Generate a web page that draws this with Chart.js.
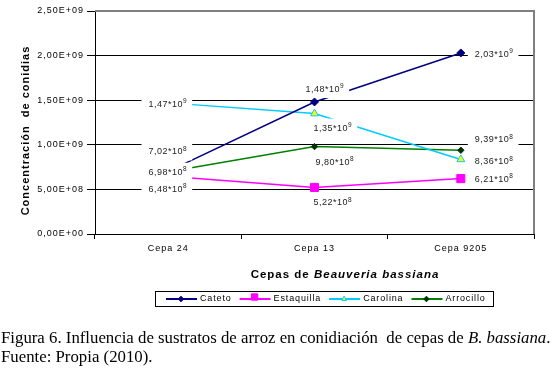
<!DOCTYPE html>
<html>
<head>
<meta charset="utf-8">
<script src="https://cdn.jsdelivr.net/npm/chart.js@4.4.1/dist/chart.umd.min.js"></script>
<style>
  html, body { margin: 0; padding: 0; background: #fff; }
  #wrap { position: relative; width: 557px; height: 372px; overflow: hidden; }
  #wrap canvas { position: absolute; left: 0; top: 0; }
  .cap { position: absolute; left: 1px; font-family: "Liberation Serif", "Times New Roman", serif;
         font-size: 16.8px; color: #000; white-space: pre; line-height: 19px; }
</style>
</head>
<body>
<div id="wrap">
  <canvas id="chart" width="557" height="372"></canvas>
  <div class="cap" style="top:328px">Figura 6. Influencia de sustratos de arroz en conidiación  de cepas de <i>B. bassiana</i>.</div>
  <div class="cap" style="top:347px">Fuente: Propia (2010).</div>
</div>
<script>
const categories = ['Cepa 24', 'Cepa 13', 'Cepa 9205'];
const seriesNames = ['Cateto', 'Estaquilla', 'Carolina', 'Arrocillo'];
const cateto = [7.02e8, 1.48e9, 2.03e9];
const estaquilla = [6.48e8, 5.22e8, 6.21e8];
const carolina = [1.47e9, 1.35e9, 8.36e8];
const arrocillo = [6.98e8, 9.80e8, 9.39e8];
const yMin = 0;
const yMax = 2.5e9;
const yStep = 5e8;

const fontFamily = '"Liberation Sans", Arial, sans-serif';

// look of each series
const seriesStyle = [
  { color: '#000080', point: 'rectRot', radius: 4, fill: '#000080', edge: '#000080' },
  { color: '#FF00FF', point: 'rect', radius: 5.7, fill: '#FF00FF', edge: '#FF00FF' },
  { color: '#00CCFF', point: 'triangle', radius: 4.5, fill: '#FFFF00', edge: '#00CCFF' },
  { color: '#008000', point: 'rectRot', radius: 3.2, fill: '#003300', edge: '#003300' }
];

// where each value label sits relative to its point: [dx, dy, align]
const labelPlacement = [
  [[19, -20, 'right'], [-9, -13, 'left'], [14, 1, 'left']],
  [[19, 13, 'right'], [-1, 15, 'left'], [14, 0, 'left']],
  [[19, 1, 'right'], [-1, 14, 'left'], [14, 2, 'left']],
  [[19, 0, 'right'], [1, 15, 'left'], [14, -11, 'left']]
];

const seriesData = [cateto, estaquilla, carolina, arrocillo];

const sciTick = (v) => {
  const [m, e] = v.toExponential(2).split('e');
  const n = parseInt(e, 10);
  return m.replace('.', ',') + 'E' + (n < 0 ? '-' : '+') + String(Math.abs(n)).padStart(2, '0');
};

const splitLabel = (v) => {
  const exp = Math.floor(Math.log10(v));
  const mant = (v / Math.pow(10, exp)).toFixed(2).replace('.', ',');
  return [mant + '*10', String(exp)];
};

const spacing = {
  id: 'spacing',
  beforeDraw(chart) {
    chart.ctx.letterSpacing = '1px';
  }
};

const plotFrame = {
  id: 'plotFrame',
  beforeDatasetsDraw(chart) {
    const { ctx, chartArea: a } = chart;
    ctx.save();
    ctx.strokeStyle = '#808080';
    ctx.lineWidth = 2;
    ctx.beginPath();
    ctx.moveTo(a.left, a.top);
    ctx.lineTo(a.right, a.top);
    ctx.lineTo(a.right, a.bottom);
    ctx.stroke();
    ctx.restore();
  }
};

const dataLabels = {
  id: 'dataLabels',
  afterDatasetsDraw(chart) {
    const ctx = chart.ctx;
    const items = [];
    ctx.save();
    ctx.letterSpacing = '0.5px';
    chart.data.datasets.forEach((ds, i) => {
      const meta = chart.getDatasetMeta(i);
      meta.data.forEach((pt, j) => {
        const [dx, dy, align] = labelPlacement[i][j];
        const [main, sup] = splitLabel(ds.data[j]);
        ctx.font = '9px ' + fontFamily;
        const wMain = ctx.measureText(main).width;
        ctx.font = '6.5px ' + fontFamily;
        const wSup = ctx.measureText(sup).width;
        const w = wMain + wSup;
        const left = align === 'right' ? pt.x + dx - w : pt.x + dx;
        items.push({ left, y: pt.y + dy, main, sup, wMain, w });
      });
    });
    ctx.fillStyle = '#fff';
    items.forEach(it => ctx.fillRect(it.left - 7, it.y - 9, it.w + 12, 18));
    ctx.fillStyle = '#222';
    ctx.textBaseline = 'middle';
    ctx.textAlign = 'left';
    items.forEach(it => {
      ctx.font = '9px ' + fontFamily;
      ctx.fillText(it.main, it.left, it.y + 0.5);
      ctx.font = '6.5px ' + fontFamily;
      ctx.fillText(it.sup, it.left + it.wMain, it.y - 2.5);
    });
    ctx.restore();
  }
};

const extras = {
  id: 'extras',
  afterDraw(chart) {
    const ctx = chart.ctx;
    const a = chart.chartArea;
    ctx.save();
    ctx.fillStyle = '#000';
    ctx.letterSpacing = '1px';

    // y axis title
    ctx.save();
    ctx.translate(26, (a.top + a.bottom) / 2 + 8);
    ctx.rotate(-Math.PI / 2);
    ctx.font = 'bold 11px ' + fontFamily;
    ctx.textAlign = 'center';
    ctx.textBaseline = 'middle';
    ctx.fillText('Concentración  de conidias', 0, 0);
    ctx.restore();

    // x axis title, partly italic
    const partA = 'Cepas de ';
    const partB = 'Beauveria bassiana';
    ctx.textBaseline = 'middle';
    ctx.textAlign = 'left';
    ctx.font = 'bold 11.5px ' + fontFamily;
    const wA = ctx.measureText(partA).width;
    ctx.font = 'italic bold 11.5px ' + fontFamily;
    const wB = ctx.measureText(partB).width;
    const tx = 345 - (wA + wB) / 2;
    ctx.font = 'bold 11.5px ' + fontFamily;
    ctx.fillText(partA, tx, 275);
    ctx.font = 'italic bold 11.5px ' + fontFamily;
    ctx.fillText(partB, tx + wA, 275);

    // legend box
    const lgTop = 291, lgBottom = 306, lgLeft = 155, lgRight = 493;
    const ly = (lgTop + lgBottom) / 2 + 0.5;
    ctx.fillStyle = '#fff';
    ctx.fillRect(lgLeft, lgTop, lgRight - lgLeft, lgBottom - lgTop);
    ctx.strokeStyle = '#000';
    ctx.lineWidth = 1;
    ctx.strokeRect(lgLeft + 0.5, lgTop + 0.5, lgRight - lgLeft, lgBottom - lgTop);
    ctx.font = '9px ' + fontFamily;
    ctx.letterSpacing = '0.85px';
    let x = 166;
    chart.data.datasets.forEach((ds, i) => {
      const st = seriesStyle[i];
      ctx.strokeStyle = st.color;
      ctx.lineWidth = 2;
      ctx.beginPath();
      ctx.moveTo(x, ly);
      ctx.lineTo(x + 31, ly);
      ctx.stroke();
      ctx.fillStyle = st.fill;
      ctx.strokeStyle = st.edge;
      ctx.lineWidth = 1;
      Chart.helpers.drawPoint(ctx, {
        pointStyle: st.point,
        radius: st.point === 'rect' ? 4.5 : 2.8,
        rotation: 0,
        borderWidth: 1
      }, x + 15, st.point === 'rect' ? ly - 2 : ly);
      ctx.fillStyle = '#000';
      ctx.fillText(ds.label, x + 34, ly);
      x += 34 + ctx.measureText(ds.label).width + 8;
    });
    ctx.restore();
  }
};

const datasets = seriesNames.map((name, i) => ({
  label: name,
  data: seriesData[i],
  borderColor: seriesStyle[i].color,
  borderWidth: 1.5,
  pointStyle: seriesStyle[i].point,
  pointRadius: seriesStyle[i].radius,
  pointHoverRadius: seriesStyle[i].radius,
  pointBackgroundColor: seriesStyle[i].fill,
  pointBorderColor: seriesStyle[i].edge,
  pointBorderWidth: 1,
  tension: 0
}));

Chart.defaults.font.family = fontFamily;
Chart.defaults.color = '#000';

new Chart(document.getElementById('chart').getContext('2d'), {
  type: 'line',
  data: { labels: categories, datasets },
  options: {
    responsive: false,
    animation: false,
    events: [],
    layout: { padding: { top: 11, right: 23, left: 0, bottom: 0 } },
    plugins: {
      legend: { display: false },
      title: { display: false },
      tooltip: { enabled: false }
    },
    scales: {
      x: {
        offset: true,
        afterFit: (scale) => { scale.height = 138; },
        grid: {
          offset: true,
          drawOnChartArea: false,
          tickLength: 5,
          tickColor: '#000'
        },
        border: { color: '#000', width: 1 },
        ticks: { font: { size: 9 }, color: '#000', padding: 4, maxRotation: 0 }
      },
      y: {
        min: yMin,
        max: yMax,
        afterFit: (scale) => { scale.width = 95; },
        grid: {
          color: (c) => (c.tick && c.tick.value === yMax ? 'rgba(0,0,0,0)' : '#000'),
          tickColor: '#000',
          tickLength: 8,
          lineWidth: 1
        },
        border: { color: '#000', width: 1 },
        ticks: {
          stepSize: yStep,
          font: { size: 9 },
          color: '#000',
          padding: 3,
          callback: (v) => sciTick(v)
        }
      }
    }
  },
  plugins: [spacing, plotFrame, dataLabels, extras]
});
</script>
</body>
</html>
